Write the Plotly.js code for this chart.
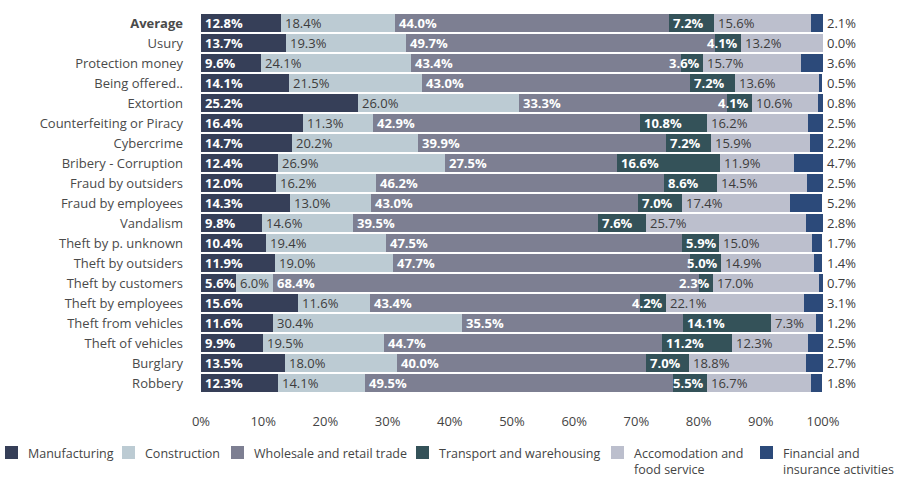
<!DOCTYPE html>
<html>
<head>
<meta charset="utf-8">
<script src="https://cdn.plot.ly/plotly-3.0.1.min.js"></script>
<style>html,body{margin:0;padding:0;background:#fff;}#chart{width:898px;height:480px;}</style>
</head>
<body>
<div id="chart"></div>
<script>
var categories = ["Average","Usury","Protection money","Being offered..","Extortion","Counterfeiting or Piracy","Cybercrime","Bribery - Corruption","Fraud by outsiders","Fraud by employees","Vandalism","Theft by p. unknown","Theft by outsiders","Theft by customers","Theft by employees","Theft from vehicles","Theft of vehicles","Burglary","Robbery"];
var seriesNames = ["Manufacturing","Construction","Wholesale and retail trade","Transport and warehousing","Accomodation and food service","Financial and insurance activities"];
var legendLabels = ["Manufacturing","Construction","Wholesale and retail trade","Transport and warehousing","Accomodation and<br>food service","Financial and<br>insurance activities"];
var manufacturing = [12.8,13.7,9.6,14.1,25.2,16.4,14.7,12.4,12.0,14.3,9.8,10.4,11.9,5.6,15.6,11.6,9.9,13.5,12.3];
var construction  = [18.4,19.3,24.1,21.5,26.0,11.3,20.2,26.9,16.2,13.0,14.6,19.4,19.0,6.0,11.6,30.4,19.5,18.0,14.1];
var wholesale     = [44.0,49.7,43.4,43.0,33.3,42.9,39.9,27.5,46.2,43.0,39.5,47.5,47.7,68.4,43.4,35.5,44.7,40.0,49.5];
var transport     = [7.2,4.1,3.6,7.2,4.1,10.8,7.2,16.6,8.6,7.0,7.6,5.9,5.0,2.3,4.2,14.1,11.2,7.0,5.5];
var accommodation = [15.6,13.2,15.7,13.6,10.6,16.2,15.9,11.9,14.5,17.4,25.7,15.0,14.9,17.0,22.1,7.3,12.3,18.8,16.7];
var financial     = [2.1,0.0,3.6,0.5,0.8,2.5,2.2,4.7,2.5,5.2,2.8,1.7,1.4,0.7,3.1,1.2,2.5,2.7,1.8];
var xTickVals = [0,10,20,30,40,50,60,70,80,90,100];
var xTickLabels = ["0%","10%","20%","30%","40%","50%","60%","70%","80%","90%","100%"];

var series = [manufacturing, construction, wholesale, transport, accommodation, financial];
var colors = ["#363f58","#bccbd3","#7d7f92","#345259","#bcbfcd","#2c4a7a"];
var labelColors = ["#ffffff","#3c3c3c","#ffffff","#ffffff","#3c3c3c","#3c3c3c"];
var labelBold = [true,false,true,true,false,false];
var FONT = "Open Sans, Lato, sans-serif";

var traces = series.map(function(vals, i){
  return {type:"bar", orientation:"h", name:seriesNames[i], x:vals, y:categories,
    marker:{color:colors[i], line:{width:0}}, hoverinfo:"x+name", showlegend:false};
});

var annotations = [];
var cum = categories.map(function(){return 0;});
series.forEach(function(vals, i){
  vals.forEach(function(v, j){
    var start = cum[j];
    var txt = v.toFixed(1) + "%";
    if (labelBold[i]) txt = "<b>" + txt + "</b>";
    var a = {xref:"x", yref:"y", y:categories[j], showarrow:false, text:txt,
      font:{family:FONT, size:13, color:labelColors[i]}, yanchor:"middle"};
    if (i === 5) {
      a.xref = "paper"; a.x = 1; a.xanchor = "left"; a.xshift = 2;
    } else if (i === 3 && v < 5.6) {
      a.x = start + v; a.xanchor = "right"; a.xshift = -1;
    } else {
      a.x = start; a.xanchor = "left"; a.xshift = 2;
    }
    annotations.push(a);
    cum[j] += v;
  });
});

// custom legend
var L = 201, W = 622, B = 394, H = 382;
function px(x){ return (x - L) / W; }
function py(y){ return (B - y) / H; }
var legendTextX = [26, 143, 252, 437, 632, 781];
var shapes = [];
seriesNames.forEach(function(n, i){
  var tx = legendTextX[i];
  var twoLine = legendLabels[i].indexOf("<br>") >= 0;
  shapes.push({type:"rect", xref:"paper", yref:"paper", x0:px(tx-21), x1:px(tx-8), y0:py(459), y1:py(446),
    fillcolor:colors[i], line:{width:0}});
  annotations.push({xref:"paper", yref:"paper", x:px(tx), y:py(twoLine ? 461 : 453), xanchor:"left", yanchor:"middle", align:"left",
    showarrow:false, text:legendLabels[i], font:{family:FONT, size:12.5, color:"#444"}});
});

var tickText = categories.map(function(c){
  return c === "Average" ? "<b>" + c + "</b>" : c;
});

var layout = {
  width:898, height:480,
  margin:{l:201, r:75, t:12, b:86},
  paper_bgcolor:"#fff", plot_bgcolor:"#fff",
  barmode:"stack", bargap:0.1,
  font:{family:FONT, size:13, color:"#444"},
  xaxis:{range:[0,100], tickmode:"array", tickvals:xTickVals, ticktext:xTickLabels, showgrid:false, zeroline:false,
    showline:false, ticks:"", ticklabelstandoff:18, tickfont:{family:FONT, size:13, color:"#444"}},
  yaxis:{type:"category", autorange:"reversed", tickvals:categories, ticktext:tickText,
    showgrid:false, zeroline:false, showline:false, ticks:"", ticklabelstandoff:17,
    tickfont:{family:FONT, size:13, color:"#4a4a4a"}},
  annotations:annotations, shapes:shapes, showlegend:false
};
Plotly.newPlot("chart", traces, layout, {displayModeBar:false, staticPlot:true});
</script>
</body>
</html>
